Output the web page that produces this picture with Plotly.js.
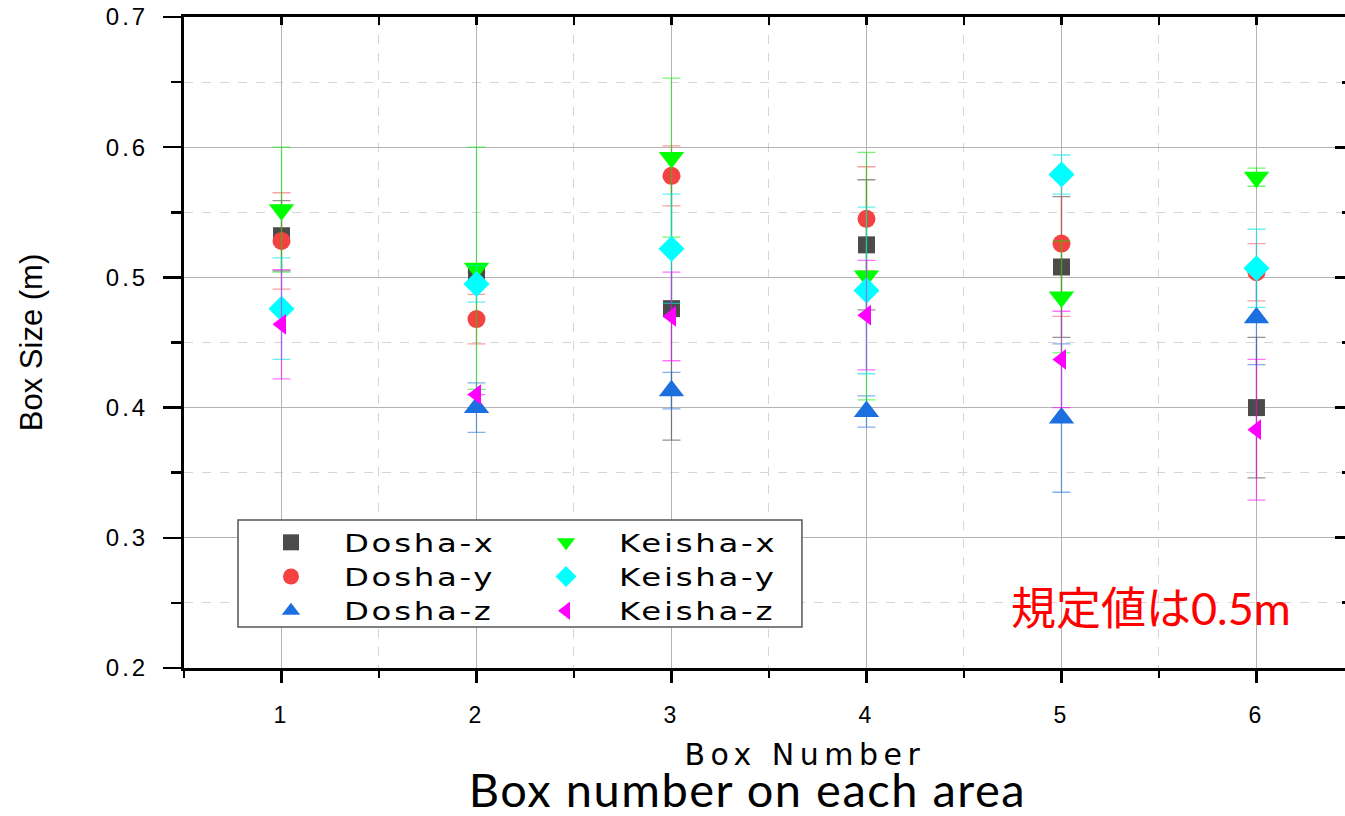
<!DOCTYPE html>
<html>
<head>
<meta charset="utf-8">
<script src="https://cdn.plot.ly/plotly-3.0.1.min.js"></script>
<style>
  html, body { margin: 0; padding: 0; background: #fff; overflow: hidden; }
  #chart { width: 1345px; height: 816px; }
  g.ytick text, g.xtick text { letter-spacing: 3px; }
  g.legend text, g.legend2 text, text.legendtext {
    letter-spacing: 2px;
    transform: scaleX(1.35);
    transform-box: fill-box;
    transform-origin: left center;
  }
  g.annotation[data-index="0"] text { letter-spacing: 5.5px; }
  g.annotation[data-index="1"] text { letter-spacing: 1.5px; }
</style>
</head>
<body>
<div id="chart"></div>
<script>
// ---- data ----
const boxes = [1, 2, 3, 4, 5, 6];
const seriesNames = ["Dosha-x", "Dosha-y", "Dosha-z", "Keisha-x", "Keisha-y", "Keisha-z"];

const doshaX    = [0.532, 0.504, 0.476, 0.525, 0.508, 0.400];
const doshaXErr = [0.027, 0.000, 0.101, 0.050, 0.054, 0.054];

const doshaY    = [0.528, 0.468, 0.578, 0.545, 0.526, 0.504];
const doshaYErr = [0.037, 0.019, 0.023, 0.040, 0.056, 0.022];

const doshaZ    = [null, 0.400, 0.413, 0.397, 0.392, 0.469];
const doshaZErr = [null, 0.019, 0.014, 0.012, 0.057, 0.036];

const keishaX    = [0.552, 0.507, 0.592, 0.501, 0.485, 0.577];
const keishaXErr = [0.048, 0.093, 0.061, 0.095, 0.043, 0.007];

const keishaY    = [0.476, 0.495, 0.522, 0.490, 0.579, 0.507];
const keishaYErr = [0.039, 0.014, 0.042, 0.064, 0.015, 0.030];

const keishaZ    = [0.464, 0.410, 0.470, 0.471, 0.437, 0.383];
const keishaZErr = [0.042, 0.000, 0.034, 0.042, 0.037, 0.054];

const xTickVals = [1, 2, 3, 4, 5, 6];
const xTickText = ["1", "2", "3", "4", "5", "6"];
const yTickVals = [0.2, 0.3, 0.4, 0.5, 0.6, 0.7];
const yTickText = ["0.2", "0.3", "0.4", "0.5", "0.6", "0.7"];

// ---- styles ----
const styles = [
  {sym: "square",        size: 17, color: "#4b4b4b", err: "rgba(75,75,75,0.6)",    lg: "legend"},
  {sym: "circle",        size: 18, color: "#f44242", err: "rgba(244,66,66,0.5)",   lg: "legend"},
  {sym: "triangle-up",   size: 22, color: "#1b6fdf", err: "rgba(27,111,223,0.55)", lg: "legend"},
  {sym: "triangle-down", size: 22, color: "#00ff00", err: "rgba(0,235,0,0.55)",    lg: "legend2"},
  {sym: "diamond",       size: 20, color: "#00ffff", err: "rgba(0,230,230,0.6)",   lg: "legend2"},
  {sym: "triangle-left", size: 18, color: "#ff00ff", err: "rgba(255,0,255,0.55)",  lg: "legend2"}
];
const values = [doshaX, doshaY, doshaZ, keishaX, keishaY, keishaZ];
const errors = [doshaXErr, doshaYErr, doshaZErr, keishaXErr, keishaYErr, keishaZErr];

const traces = values.map((v, i) => ({
  type: "scatter",
  mode: "markers",
  name: seriesNames[i],
  x: boxes,
  y: v,
  legend: styles[i].lg,
  marker: {symbol: styles[i].sym, size: styles[i].size, color: styles[i].color, line: {width: 0}},
  error_y: {type: "data", array: errors[i], visible: true, color: styles[i].err, thickness: 1.3, width: 9}
}));

const gridMajor = "#b4b4b4";
const gridMinor = "#d6d6d6";
const legendFont = {family: "DejaVu Sans, sans-serif", size: 24, color: "#000"};

const layout = {
  width: 1345,
  height: 816,
  margin: {l: 184, r: 0, t: 17, b: 148},
  paper_bgcolor: "#ffffff",
  plot_bgcolor: "#ffffff",
  font: {family: "Liberation Sans, Arial, sans-serif", color: "#000"},
  showlegend: true,
  legend: {
    orientation: "v", x: 0.0465, xanchor: "left", y: 0.227, yanchor: "top",
    bgcolor: "rgba(0,0,0,0)", borderwidth: 0, font: legendFont, itemwidth: 96, traceorder: "normal"
  },
  legend2: {
    orientation: "v", x: 0.2834, xanchor: "left", y: 0.227, yanchor: "top",
    bgcolor: "rgba(0,0,0,0)", borderwidth: 0, font: legendFont, itemwidth: 96, traceorder: "normal"
  },
  shapes: [
    {type: "rect", xref: "x", yref: "y", x0: 0.777, x1: 3.669, y0: 0.2315, y1: 0.3137,
     line: {color: "#555", width: 1.5}, fillcolor: "#ffffff", layer: "between"}
  ],
  xaxis: {
    range: [0.5, 6.454],
    tickvals: xTickVals, ticktext: xTickText,
    ticks: "outside", ticklen: 12, tickwidth: 2.5, tickcolor: "#000",
    showline: true, linewidth: 3, linecolor: "#000",
    showgrid: true, gridcolor: gridMajor, gridwidth: 1.2,
    zeroline: false,
    tickfont: {size: 23, family: "Liberation Sans, Arial, sans-serif"},
    ticklabelstandoff: 12,
    minor: {dtick: 0.5, tick0: 0.5, ticks: "outside", ticklen: 7, tickwidth: 2.5, tickcolor: "#000",
            showgrid: true, gridcolor: gridMinor, griddash: "dash", gridwidth: 1}
  },
  xaxis2: {
    overlaying: "x", side: "top", range: [0.5, 6.454],
    dtick: 0.5, tick0: 0.5, ticks: "inside", ticklen: 8, tickwidth: 2.5, tickcolor: "#000",
    showticklabels: false, showline: true, linewidth: 3, linecolor: "#000",
    showgrid: false, zeroline: false
  },
  yaxis: {
    range: [0.2, 0.7],
    tickvals: yTickVals, ticktext: yTickText,
    ticks: "outside", ticklen: 18, tickwidth: 2.5, tickcolor: "#000",
    showline: true, linewidth: 3, linecolor: "#000",
    showgrid: true, gridcolor: gridMajor, gridwidth: 1.2,
    zeroline: false,
    tickfont: {size: 24, family: "Liberation Sans, Arial, sans-serif"},
    ticklabelstandoff: 10,
    title: {text: "Box Size (m)", font: {size: 31, family: "Liberation Sans, Arial, sans-serif"}, standoff: 54},
    automargin: false,
    minor: {dtick: 0.05, tick0: 0.2, ticks: "outside", ticklen: 10, tickwidth: 2.5, tickcolor: "#000",
            showgrid: true, gridcolor: gridMinor, griddash: "dash", gridwidth: 1}
  },
  yaxis2: {
    overlaying: "y", side: "right", range: [0.2, 0.7],
    dtick: 0.1, tick0: 0.2, ticks: "inside", ticklen: 10, tickwidth: 3, tickcolor: "#000",
    showticklabels: false, showline: false, showgrid: false, zeroline: false,
    minor: {dtick: 0.05, tick0: 0.2, ticks: "inside", ticklen: 3, tickwidth: 3, tickcolor: "#000"}
  },
  annotations: [
    {text: "Box Number", xref: "paper", yref: "paper", x: 0.535, y: -0.1336, xanchor: "center", yanchor: "middle",
     showarrow: false, font: {size: 30, family: "DejaVu Sans, sans-serif", color: "#000"}},
    {text: "Box number on each area", xref: "paper", yref: "paper", x: 0.485, y: -0.232, xanchor: "center", yanchor: "bottom",
     showarrow: false, font: {size: 47, family: "Lato, sans-serif", color: "#000"}},
    {text: "規定値は<span style=\"font-family:Lato\">0.5m</span>", xref: "x", yref: "y", x: 5.46, y: 0.248,
     xanchor: "center", yanchor: "middle", showarrow: false,
     font: {size: 45, family: "Noto Sans CJK JP, sans-serif", color: "#ff0000"}}
  ]
};

// empty helper trace so the top/right mirror axes are drawn
traces.push({type: "scatter", x: [], y: [], xaxis: "x2", yaxis: "y2", showlegend: false, hoverinfo: "skip"});

Plotly.newPlot("chart", traces, layout, {displayModeBar: false, staticPlot: true}).then(function (gd) {
  // let the widened legend labels show in full
  gd.querySelectorAll("g.legend .scrollbox, g.legend2 .scrollbox, g.legend, g.legend2").forEach(function (el) {
    el.removeAttribute("clip-path");
  });
});
</script>
</body>
</html>
